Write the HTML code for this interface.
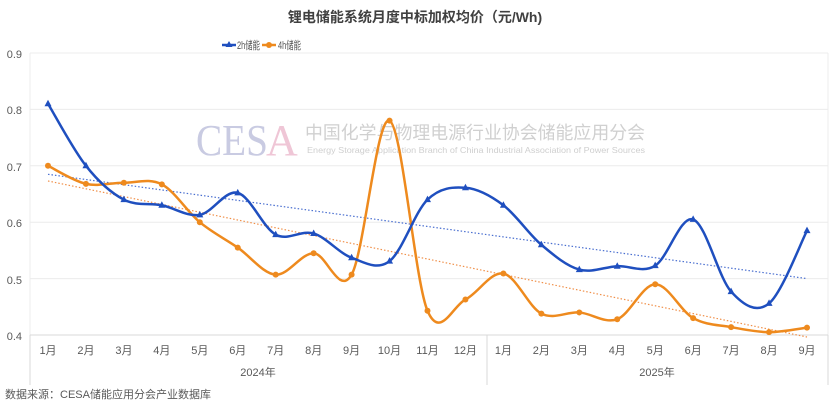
<!DOCTYPE html>
<html><head><meta charset="utf-8"><style>
body{margin:0;background:#fff;width:830px;height:405px;overflow:hidden}
svg text{font-family:"Liberation Sans","Noto Sans CJK SC",sans-serif}
svg text.serif{font-family:"Liberation Serif",serif}
</style></head><body>
<svg id="s" width="830" height="405" xmlns="http://www.w3.org/2000/svg">
<text x="415" y="22" text-anchor="middle" font-size="14" font-weight="bold" fill="#404040">锂电储能系统月度中标加权均价（元/Wh)</text>
<line x1="222" y1="45" x2="236" y2="45" stroke="#1f4fbf" stroke-width="2.5"/><polygon points="229,41 232.5,47 225.5,47" fill="#1f4fbf"/>
<text x="237" y="49" font-size="11" fill="#555" textLength="23" lengthAdjust="spacingAndGlyphs">2h储能</text>
<line x1="262" y1="45" x2="276" y2="45" stroke="#ee8a1e" stroke-width="2.5"/><circle cx="269" cy="45" r="3" fill="#ee8a1e"/>
<text x="278" y="49" font-size="11" fill="#555" textLength="23" lengthAdjust="spacingAndGlyphs">4h储能</text>
<g font-size="11" fill="#595959" text-anchor="end">
<text x="22" y="58">0.9</text><text x="22" y="114">0.8</text><text x="22" y="171">0.7</text><text x="22" y="227">0.6</text><text x="22" y="284">0.5</text><text x="22" y="340">0.4</text></g>
<g stroke="#ececec" stroke-width="1">
<line x1="30" y1="53" x2="828" y2="53"/><line x1="30" y1="109.4" x2="828" y2="109.4"/><line x1="30" y1="165.8" x2="828" y2="165.8"/><line x1="30" y1="222.2" x2="828" y2="222.2"/><line x1="30" y1="278.6" x2="828" y2="278.6"/>
<line x1="30" y1="53" x2="30" y2="335"/><line x1="828" y1="53" x2="828" y2="335"/>
</g>
<g stroke="#d9d9d9"><line x1="30" y1="335" x2="828" y2="335"/><line x1="30" y1="335" x2="30" y2="385"/><line x1="487" y1="335" x2="487" y2="385"/><line x1="828" y1="335" x2="828" y2="385"/></g>
<text class="serif" x="196" y="155" font-size="44" fill="#c9cbe2" textLength="72" lengthAdjust="spacingAndGlyphs">CES</text>
<text class="serif" x="266" y="155" font-size="44" fill="#efc6d6">A</text>
<text x="305" y="139" font-size="18" fill="#d0d0d0" textLength="340" lengthAdjust="spacingAndGlyphs">中国化学与物理电源行业协会储能应用分会</text>
<text x="307" y="153" font-size="8.5" fill="#cfcfcf" textLength="338" lengthAdjust="spacingAndGlyphs">Energy Storage Application Branch of China Industrial Association of Power Sources</text>
<g id="lab" font-size="11" fill="#595959" text-anchor="middle"></g>
<text x="258" y="376" font-size="11" fill="#595959" text-anchor="middle">2024年</text>
<text x="657" y="376" font-size="11" fill="#595959" text-anchor="middle">2025年</text>
<text x="5" y="398" font-size="11" fill="#595959">数据来源：CESA储能应用分会产业数据库</text>
<line x1="48" y1="174.3" x2="807" y2="278.6" stroke="#4a6fd0" stroke-width="1.2" stroke-dasharray="1.5,2"/>
<line x1="48" y1="181" x2="807" y2="337" stroke="#f0904a" stroke-width="1.2" stroke-dasharray="1.5,2"/>
<g id="g"></g>
</svg>
<script>
var a=[0.81,0.70,0.64,0.63,0.613,0.652,0.578,0.58,0.537,0.531,0.64,0.661,0.63,0.56,0.516,0.522,0.523,0.605,0.477,0.456,0.585];
var b=[0.70,0.668,0.67,0.667,0.60,0.555,0.507,0.545,0.507,0.78,0.443,0.463,0.509,0.438,0.44,0.428,0.49,0.43,0.414,0.405,0.413];
function X(i){return 48+i*37.95}function Y(v){return 335-(v-0.4)*564}
var ns="http://www.w3.org/2000/svg",g=document.getElementById('g'),lab=document.getElementById('lab');
for(var i=0;i<21;i++){var t=document.createElementNS(ns,'text');t.setAttribute('x',X(i));t.setAttribute('y',354);t.textContent=((i<12?i:i-12)+1)+'月';lab.appendChild(t);}
function path(d){var p=d.map(function(v,i){return[X(i),Y(v)]});var s='M'+p[0];for(var i=0;i<p.length-1;i++){var p0=p[i-1]||p[i],p1=p[i],p2=p[i+1],p3=p[i+2]||p2;var k=6;s+='C'+(p1[0]+(p2[0]-p0[0])/k)+','+(p1[1]+(p2[1]-p0[1])/k)+' '+(p2[0]-(p3[0]-p1[0])/k)+','+(p2[1]-(p3[1]-p1[1])/k)+' '+p2;}return s;}
function draw(d,c,tri){var pa=document.createElementNS(ns,'path');pa.setAttribute('d',path(d));pa.setAttribute('fill','none');pa.setAttribute('stroke',c);pa.setAttribute('stroke-width','2.5');g.appendChild(pa);
d.forEach(function(v,i){var x=X(i),y=Y(v),m;if(tri){m=document.createElementNS(ns,'polygon');m.setAttribute('points',x+','+(y-4)+' '+(x+3.5)+','+(y+2.5)+' '+(x-3.5)+','+(y+2.5));}else{m=document.createElementNS(ns,'circle');m.setAttribute('cx',x);m.setAttribute('cy',y);m.setAttribute('r',3);}m.setAttribute('fill',c);g.appendChild(m);});}
draw(b,'#ee8a1e',false);draw(a,'#1f4fbf',true);
</script>
</body></html>
